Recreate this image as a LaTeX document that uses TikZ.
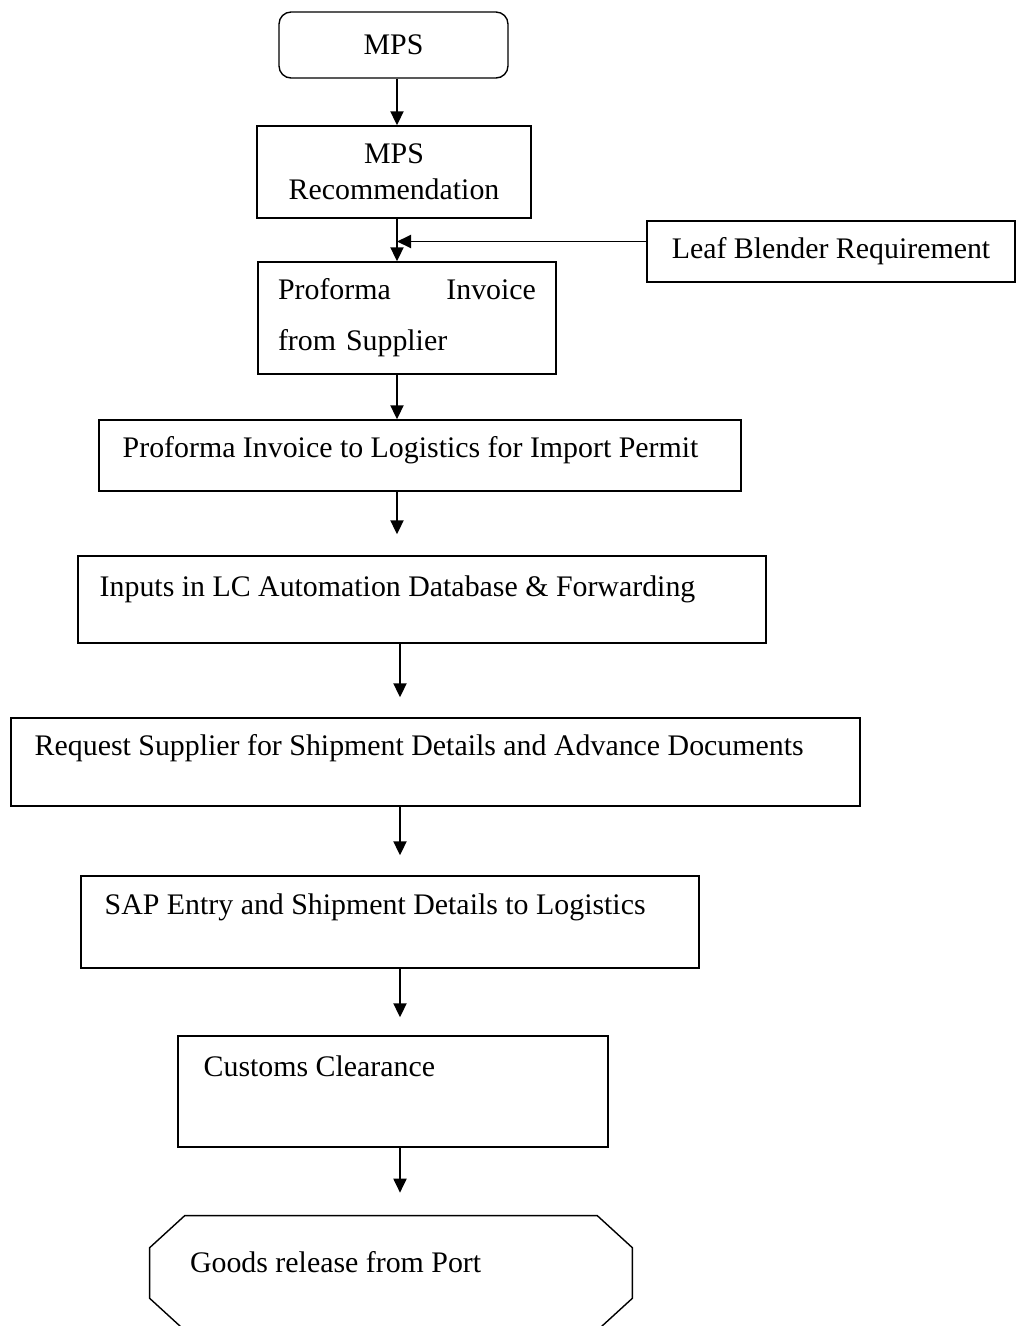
\documentclass[tikz,border=0pt]{standalone}
\usepackage{fontspec}
\setmainfont{Liberation Serif}
\usetikzlibrary{arrows.meta}

\begin{document}
\begin{tikzpicture}[x=0.02cm,y=-0.02cm,
    every node/.style={font=\fontsize{17}{20.5}\selectfont},
    stage/.style={draw,line width=0.8pt,inner sep=0pt},
    stagetext/.style={anchor=west,inner sep=0pt},
    flow/.style={line width=1.1pt,-{Triangle[length=0.28cm,width=0.26cm]}},
    gap/.style={shorten >=#1}]
  \useasboundingbox (0,0) rectangle (1017,1326);

  % columns of the downward arrows
  \coordinate (spine) at (397,0);
  \coordinate (spinelow) at (400,0);

  \node[stage,rounded corners=0.24cm,minimum width=4.58cm,minimum height=1.32cm] (mps) at (393.5,45) {MPS};
  \node[stage,align=center,minimum width=5.48cm,minimum height=1.84cm] (rec) at (394,172) {MPS\\Recommendation};
  \node[stage,minimum width=7.36cm,minimum height=1.22cm] (leaf) at (831,251.5) {Leaf Blender Requirement};
  \node[stage,text width=5.16cm,inner xsep=0.4cm,align=left,minimum height=2.24cm] (pro) at (407,318)
    {Proforma\hfill Invoice\\[0.3cm]from Supplier};

  \node[stage,minimum width=12.84cm,minimum height=1.42cm,
    label={[stagetext,xshift=0.48cm,yshift=-0.62cm]north west:Proforma Invoice to Logistics for Import Permit}] (log) at (420,455.5) {};
  \node[stage,minimum width=13.76cm,minimum height=1.74cm,
    label={[stagetext,xshift=0.44cm,yshift=-0.68cm]north west:Inputs in LC Automation Database \& Forwarding}] (inp) at (422,599.5) {};
  \node[stage,minimum width=16.98cm,minimum height=1.76cm,
    label={[stagetext,xshift=0.48cm,yshift=-0.62cm]north west:Request Supplier for Shipment Details and Advance Documents}] (req) at (435.5,762) {};
  \node[stage,minimum width=12.36cm,minimum height=1.84cm,
    label={[stagetext,xshift=0.48cm,yshift=-0.64cm]north west:SAP Entry and Shipment Details to Logistics}] (sap) at (390,922) {};
  \node[stage,minimum width=8.6cm,minimum height=2.22cm,
    label={[stagetext,xshift=0.52cm,yshift=-0.62cm]north west:Customs Clearance}] (cus) at (393,1091.5) {};

  % last stage: octagon with cut corners
  \node[inner sep=0pt,minimum width=9.64cm,minimum height=2.28cm,
    label={[stagetext,xshift=0.8cm,yshift=0.22cm]west:Goods release from Port}] (goods) at (391,1273) {};
  \draw[line width=0.8pt] ([xshift=0.7cm]goods.north west) -- ([xshift=-0.7cm]goods.north east)
    -- ([yshift=-0.64cm]goods.north east) -- ([yshift=0.64cm]goods.south east)
    -- ([xshift=-0.7cm]goods.south east) -- ([xshift=0.7cm]goods.south west)
    -- ([yshift=0.64cm]goods.south west) -- ([yshift=-0.64cm]goods.north west) -- cycle;

  \draw[flow] (mps.south -| spine) -- (rec.north -| spine);
  \draw[flow] (rec.south -| spine) -- (pro.north -| spine);
  \draw[flow] ([yshift=0.2cm]leaf.west) -- ([yshift=0.2cm]leaf.west -| spine);
  \draw[flow] (pro.south -| spine) -- (log.north -| spine);
  \draw[flow,gap=0.42cm] (log.south -| spine) -- (inp.north -| spine);
  \draw[flow,gap=0.4cm] (inp.south -| spinelow) -- (req.north -| spinelow);
  \draw[flow,gap=0.4cm] (req.south -| spinelow) -- (sap.north -| spinelow);
  \draw[flow,gap=0.36cm] (sap.south -| spinelow) -- (cus.north -| spinelow);
  \draw[flow,gap=0.46cm] (cus.south -| spinelow) -- (goods.north -| spinelow);
\end{tikzpicture}
\end{document}
